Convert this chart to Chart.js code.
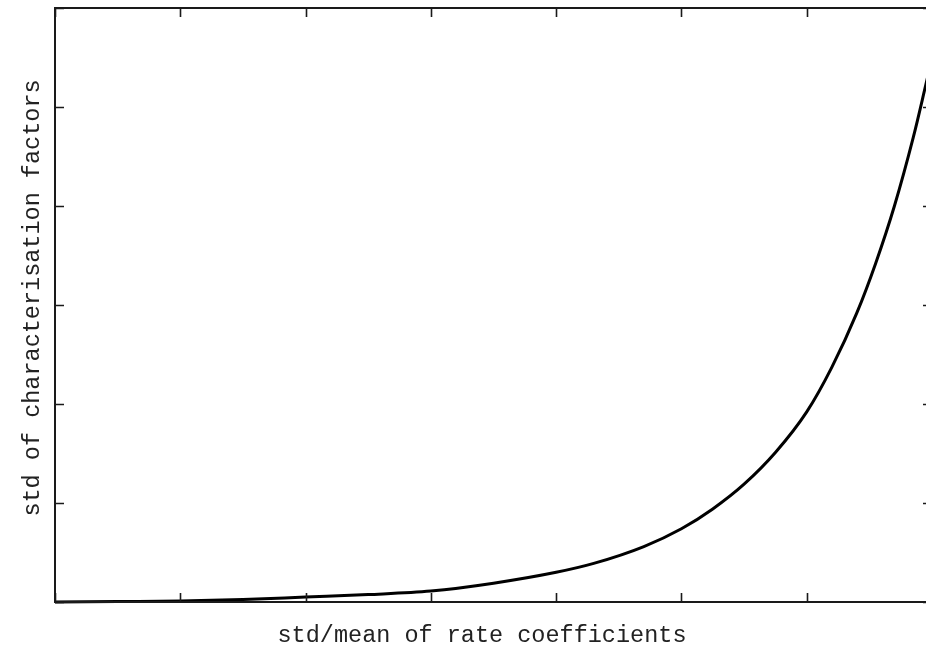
<!DOCTYPE html>
<html>
<head>
<meta charset="utf-8">
<script src="https://cdn.jsdelivr.net/npm/chart.js@4/dist/chart.umd.min.js"></script>
<style>
  html, body { margin: 0; padding: 0; background: #fff; overflow: hidden; }
  #wrap { width: 940px; height: 649px; }
</style>
</head>
<body>
<div id="wrap"><canvas id="c" width="940" height="649"></canvas></div>
<script>
// std/mean of rate coefficients (x) vs std of characterisation factors (y)
const xValues = [0, 0.5, 1.0, 1.5, 2.0, 2.5, 3.0, 3.5, 4.0, 4.3, 4.7, 5.0, 5.25, 5.5, 5.75, 6.0, 6.2, 6.4, 6.55, 6.7, 6.85, 6.95, 7.0];
const yValues = [0, 0.005, 0.01, 0.025, 0.05, 0.075, 0.11, 0.19, 0.30, 0.39, 0.56, 0.74, 0.94, 1.19, 1.51, 1.92, 2.37, 2.92, 3.42, 4.00, 4.69, 5.22, 5.49];
const xTicks = [0, 1, 2, 3, 4, 5, 6, 7];
const yTicks = [0, 1, 2, 3, 4, 5, 6];
const xTitle = 'std/mean of rate coefficients';
const yTitle = 'std of characterisation factors';

const points = xValues.map((x, i) => ({ x: x, y: yValues[i] }));

// Frame, inward ticks on all four sides, and the axis titles
const framePlugin = {
  id: 'frame',
  afterDatasetsDraw(chart) {
    const ctx = chart.ctx;
    const a = chart.chartArea;
    const xs = chart.scales.x, ys = chart.scales.y;
    const tick = 9;
    ctx.save();
    ctx.strokeStyle = '#1a1a1a';
    ctx.lineWidth = 2;
    ctx.strokeRect(a.left, a.top, a.right - a.left, a.bottom - a.top);
    ctx.lineWidth = 1.6;
    ctx.beginPath();
    xTicks.forEach(v => {
      const px = Math.round(xs.getPixelForValue(v)) + 0.5;
      ctx.moveTo(px, a.bottom); ctx.lineTo(px, a.bottom - tick);
      ctx.moveTo(px, a.top); ctx.lineTo(px, a.top + tick);
    });
    yTicks.forEach(v => {
      const py = Math.round(ys.getPixelForValue(v)) + 0.5;
      ctx.moveTo(a.left, py); ctx.lineTo(a.left + tick, py);
      ctx.moveTo(a.right, py); ctx.lineTo(a.right - tick, py);
    });
    ctx.stroke();

    ctx.fillStyle = '#222';
    ctx.font = '23.5px "Liberation Mono", "DejaVu Sans Mono", monospace';
    ctx.textAlign = 'center';
    ctx.textBaseline = 'alphabetic';
    ctx.fillText(xTitle, 482, 641.5);
    ctx.translate(39, 298);
    ctx.rotate(-Math.PI / 2);
    ctx.fillText(yTitle, 0, 0);
    ctx.restore();
  }
};

new Chart(document.getElementById('c'), {
  type: 'line',
  data: {
    datasets: [{
      data: points,
      borderColor: '#000',
      borderWidth: 3,
      pointRadius: 0,
      fill: false,
      cubicInterpolationMode: 'monotone',
      clip: 3
    }]
  },
  options: {
    responsive: false,
    animation: false,
    layout: { padding: { left: 55, right: 8, top: 8, bottom: 47 } },
    plugins: { legend: { display: false }, tooltip: { enabled: false } },
    scales: {
      x: { type: 'linear', min: 0, max: 7, display: false },
      y: { type: 'linear', min: 0, max: 6, display: false }
    }
  },
  plugins: [framePlugin]
});
</script>
</body>
</html>
